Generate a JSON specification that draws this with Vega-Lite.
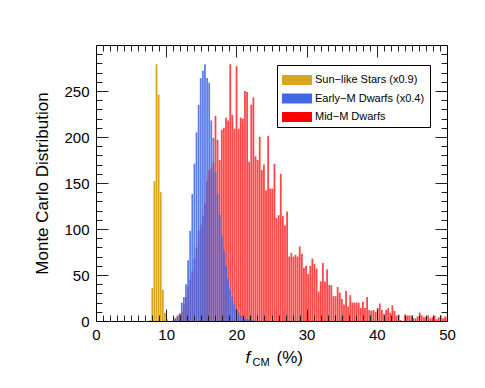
{
"$schema": "https://vega.github.io/schema/vega-lite/v6.json",
"width": 351, "height": 276,
"autosize": "none",
"padding": {"left": 96, "top": 45, "right": 38, "bottom": 67},
"background": "white",
"data": {"values": [
{"s":"M","a":10.8,"b":11.1,"n":1},{"s":"M","a":11.1,"b":11.4,"n":3},{"s":"M","a":11.4,"b":11.7,"n":6},{"s":"M","a":11.7,"b":12.0,"n":8},{"s":"M","a":12.0,"b":12.3,"n":10},{"s":"M","a":12.3,"b":12.6,"n":18},{"s":"M","a":12.6,"b":12.9,"n":26},{"s":"M","a":12.9,"b":13.2,"n":37},{"s":"M","a":13.2,"b":13.5,"n":45},{"s":"M","a":13.5,"b":13.8,"n":54},{"s":"M","a":13.8,"b":14.1,"n":68},{"s":"M","a":14.1,"b":14.4,"n":80},{"s":"M","a":14.4,"b":14.7,"n":98},{"s":"M","a":14.7,"b":15.0,"n":105},{"s":"M","a":15.0,"b":15.3,"n":114},{"s":"M","a":15.3,"b":15.6,"n":128},{"s":"M","a":15.6,"b":15.9,"n":152},{"s":"M","a":15.9,"b":16.2,"n":164},{"s":"M","a":16.2,"b":16.5,"n":166},{"s":"M","a":16.5,"b":16.8,"n":172},{"s":"M","a":16.8,"b":17.1,"n":223},{"s":"M","a":17.1,"b":17.4,"n":197},{"s":"M","a":17.4,"b":17.7,"n":175},{"s":"M","a":17.7,"b":18.0,"n":208},{"s":"M","a":18.0,"b":18.3,"n":210},{"s":"M","a":18.3,"b":18.6,"n":221},{"s":"M","a":18.6,"b":18.9,"n":218},{"s":"M","a":18.9,"b":19.2,"n":279},{"s":"M","a":19.2,"b":19.5,"n":224},{"s":"M","a":19.5,"b":19.8,"n":209},{"s":"M","a":19.8,"b":20.1,"n":277},{"s":"M","a":20.1,"b":20.4,"n":209},{"s":"M","a":20.4,"b":20.7,"n":221},{"s":"M","a":20.7,"b":21.0,"n":220},{"s":"M","a":21.0,"b":21.3,"n":250},{"s":"M","a":21.3,"b":21.6,"n":249},{"s":"M","a":21.6,"b":21.9,"n":173},{"s":"M","a":21.9,"b":22.2,"n":235},{"s":"M","a":22.2,"b":22.5,"n":243},{"s":"M","a":22.5,"b":22.8,"n":179},{"s":"M","a":22.8,"b":23.1,"n":175},{"s":"M","a":23.1,"b":23.4,"n":200},{"s":"M","a":23.4,"b":23.7,"n":164},{"s":"M","a":23.7,"b":24.0,"n":170},{"s":"M","a":24.0,"b":24.3,"n":142},{"s":"M","a":24.3,"b":24.6,"n":201},{"s":"M","a":24.6,"b":24.9,"n":144},{"s":"M","a":24.9,"b":25.2,"n":144},{"s":"M","a":25.2,"b":25.5,"n":171},{"s":"M","a":25.5,"b":25.8,"n":112},{"s":"M","a":25.8,"b":26.1,"n":115},{"s":"M","a":26.1,"b":26.4,"n":160},{"s":"M","a":26.4,"b":26.7,"n":114},{"s":"M","a":26.7,"b":27.0,"n":104},{"s":"M","a":27.0,"b":27.3,"n":119},{"s":"M","a":27.3,"b":27.6,"n":70},{"s":"M","a":27.6,"b":27.9,"n":74},{"s":"M","a":27.9,"b":28.2,"n":70},{"s":"M","a":28.2,"b":28.5,"n":72},{"s":"M","a":28.5,"b":28.8,"n":70},{"s":"M","a":28.8,"b":29.1,"n":81},{"s":"M","a":29.1,"b":29.4,"n":73},{"s":"M","a":29.4,"b":29.7,"n":58},{"s":"M","a":29.7,"b":30.0,"n":60},{"s":"M","a":30.0,"b":30.3,"n":51},{"s":"M","a":30.3,"b":30.6,"n":60},{"s":"M","a":30.6,"b":30.9,"n":68},{"s":"M","a":30.9,"b":31.2,"n":62},{"s":"M","a":31.2,"b":31.5,"n":57},{"s":"M","a":31.5,"b":31.8,"n":32},{"s":"M","a":31.8,"b":32.1,"n":43},{"s":"M","a":32.1,"b":32.4,"n":63},{"s":"M","a":32.4,"b":32.7,"n":43},{"s":"M","a":32.7,"b":33.0,"n":56},{"s":"M","a":33.0,"b":33.3,"n":39},{"s":"M","a":33.3,"b":33.6,"n":39},{"s":"M","a":33.6,"b":33.9,"n":27},{"s":"M","a":33.9,"b":34.2,"n":27},{"s":"M","a":34.2,"b":34.5,"n":37},{"s":"M","a":34.5,"b":34.8,"n":31},{"s":"M","a":34.8,"b":35.1,"n":24},{"s":"M","a":35.1,"b":35.4,"n":18},{"s":"M","a":35.4,"b":35.7,"n":33},{"s":"M","a":35.7,"b":36.0,"n":16},{"s":"M","a":36.0,"b":36.3,"n":28},{"s":"M","a":36.3,"b":36.6,"n":20},{"s":"M","a":36.6,"b":36.9,"n":20},{"s":"M","a":36.9,"b":37.2,"n":20},{"s":"M","a":37.2,"b":37.5,"n":20},{"s":"M","a":37.5,"b":37.8,"n":14},{"s":"M","a":37.8,"b":38.1,"n":21},{"s":"M","a":38.1,"b":38.4,"n":14},{"s":"M","a":38.4,"b":38.7,"n":26},{"s":"M","a":38.7,"b":39.0,"n":12},{"s":"M","a":39.0,"b":39.3,"n":11},{"s":"M","a":39.3,"b":39.6,"n":12},{"s":"M","a":39.6,"b":39.9,"n":10},{"s":"M","a":39.9,"b":40.2,"n":14},{"s":"M","a":40.2,"b":40.5,"n":19},{"s":"M","a":40.5,"b":40.8,"n":12},{"s":"M","a":40.8,"b":41.1,"n":8},{"s":"M","a":41.1,"b":41.4,"n":12},{"s":"M","a":41.4,"b":41.7,"n":14},{"s":"M","a":41.7,"b":42.0,"n":9},{"s":"M","a":42.0,"b":42.3,"n":17},{"s":"M","a":42.3,"b":42.6,"n":11},{"s":"M","a":42.6,"b":42.9,"n":6},{"s":"M","a":42.9,"b":43.2,"n":7},{"s":"M","a":43.2,"b":43.5,"n":1},{"s":"M","a":43.8,"b":44.1,"n":7},{"s":"M","a":44.1,"b":44.4,"n":6},{"s":"M","a":44.4,"b":44.7,"n":6},{"s":"M","a":44.7,"b":45.0,"n":6},{"s":"M","a":45.0,"b":45.3,"n":3},{"s":"M","a":45.3,"b":45.6,"n":3},{"s":"M","a":45.6,"b":45.9,"n":5},{"s":"M","a":45.9,"b":46.2,"n":9},{"s":"M","a":46.2,"b":46.5,"n":6},{"s":"M","a":46.5,"b":46.8,"n":4},{"s":"M","a":46.8,"b":47.1,"n":5},{"s":"M","a":47.1,"b":47.4,"n":6},{"s":"M","a":47.4,"b":47.7,"n":3},{"s":"M","a":47.7,"b":48.0,"n":4},{"s":"M","a":48.0,"b":48.3,"n":6},{"s":"M","a":48.3,"b":48.6,"n":2},{"s":"M","a":48.6,"b":48.9,"n":4},{"s":"M","a":48.9,"b":49.2,"n":6},{"s":"M","a":49.2,"b":49.5,"n":3},{"s":"M","a":49.5,"b":49.8,"n":5},{"s":"M","a":49.8,"b":50.0,"n":4},
{"s":"E","a":11.1,"b":11.4,"n":3},{"s":"E","a":11.4,"b":11.7,"n":5},{"s":"E","a":11.7,"b":12.0,"n":8},{"s":"E","a":12.0,"b":12.3,"n":20},{"s":"E","a":12.3,"b":12.6,"n":26},{"s":"E","a":12.6,"b":12.9,"n":40},{"s":"E","a":12.9,"b":13.2,"n":66},{"s":"E","a":13.2,"b":13.5,"n":98},{"s":"E","a":13.5,"b":13.8,"n":138},{"s":"E","a":13.8,"b":14.1,"n":171},{"s":"E","a":14.1,"b":14.4,"n":205},{"s":"E","a":14.4,"b":14.7,"n":235},{"s":"E","a":14.7,"b":15.0,"n":264},{"s":"E","a":15.0,"b":15.3,"n":272},{"s":"E","a":15.3,"b":15.6,"n":279},{"s":"E","a":15.6,"b":15.9,"n":264},{"s":"E","a":15.9,"b":16.2,"n":259},{"s":"E","a":16.2,"b":16.5,"n":218},{"s":"E","a":16.5,"b":16.8,"n":199},{"s":"E","a":16.8,"b":17.1,"n":162},{"s":"E","a":17.1,"b":17.4,"n":138},{"s":"E","a":17.4,"b":17.7,"n":115},{"s":"E","a":17.7,"b":18.0,"n":92},{"s":"E","a":18.0,"b":18.3,"n":76},{"s":"E","a":18.3,"b":18.6,"n":60},{"s":"E","a":18.6,"b":18.9,"n":46},{"s":"E","a":18.9,"b":19.2,"n":35},{"s":"E","a":19.2,"b":19.5,"n":26},{"s":"E","a":19.5,"b":19.8,"n":18},{"s":"E","a":19.8,"b":20.1,"n":13},{"s":"E","a":20.1,"b":20.4,"n":9},{"s":"E","a":20.4,"b":20.7,"n":6},{"s":"E","a":20.7,"b":21.0,"n":4},{"s":"E","a":21.0,"b":21.3,"n":3},{"s":"E","a":21.3,"b":21.6,"n":2},{"s":"E","a":21.6,"b":21.9,"n":2},{"s":"E","a":21.9,"b":22.2,"n":1},{"s":"E","a":22.2,"b":22.5,"n":1},
{"s":"S","a":7.5,"b":7.8,"n":1},{"s":"S","a":7.8,"b":8.1,"n":36},{"s":"S","a":8.1,"b":8.4,"n":152},{"s":"S","a":8.4,"b":8.7,"n":279},{"s":"S","a":8.7,"b":9.0,"n":246},{"s":"S","a":9.0,"b":9.3,"n":140},{"s":"S","a":9.3,"b":9.6,"n":34},{"s":"S","a":9.6,"b":9.9,"n":9},{"s":"S","a":9.9,"b":10.2,"n":2}
]},
"layer": [
{
"mark": {"type": "bar", "binSpacing": 0.3},
"encoding": {
"x": {"field": "a", "type": "quantitative", "bin": {"binned": true, "step": 0.3}, "scale": {"domain": [0, 50], "nice": false, "zero": false},
 "axis": {"orient": "bottom", "values": [0,10,20,30,40,50], "ticks": false, "domain": true, "domainColor": "black", "labelFontSize": 15, "labelPadding": 6, "labelFlush": false, "labelOverlap": false, "format": "d",
  "title": "f", "titleFontStyle": "italic", "titleFontSize": 17, "titleX": 149, "titleY": 41, "titleAlign": "left", "titleBaseline": "alphabetic", "titleAnchor": null}},
"x2": {"field": "b"},
"y": {"field": "n", "type": "quantitative", "stack": null, "scale": {"domain": [0, 300], "nice": false},
 "axis": {"orient": "left", "values": [0,50,100,150,200,250], "ticks": false, "domain": true, "domainColor": "black", "labelFontSize": 15, "labelPadding": 7, "labelFlush": false, "labelOverlap": false,
  "title": "Monte Carlo Distribution", "titleFontSize": 17, "titlePadding": 12}},
"color": {"field": "s", "type": "nominal", "scale": {"domain": ["S","E","M"], "range": ["#DAA520","#4169E1","#FF0000"]},
 "legend": {"orient": "none", "legendX": 181, "legendY": 20, "title": null, "strokeColor": "black", "fillColor": "white", "padding": 5, "labelFontSize": 11, "symbolType": "M-1,-0.5H2V0.5H-1Z", "symbolSize": 400, "symbolStrokeWidth": 0, "symbolOpacity": 1, "rowPadding": 3.5, "labelOffset": 13, "cornerRadius": 0,
  "labelExpr": "datum.value == 'S' ? 'Sun−like Stars (x0.9)' : datum.value == 'E' ? 'Early−M Dwarfs (x0.4)' : 'Mid−M Dwarfs'"}},
"fillOpacity": {"field": "s", "type": "nominal", "scale": {"domain": ["S","E","M"], "range": [1, 0.72, 0.85]}, "legend": null}
}
},
{
"mark": {"type": "point", "opacity": 0},
"encoding": {
"x": {"field": "a", "type": "quantitative", "scale": {"domain": [0, 50], "nice": false, "zero": false},
 "axis": {"orient": "bottom", "values": [10,20,30,40], "tickSize": -12, "labels": false, "domain": false, "zindex": 2,
  "title": "CM", "titleFontSize": 11, "titleX": 156, "titleY": 44, "titleAlign": "left", "titleBaseline": "alphabetic", "titleAnchor": null}},
"y": {"field": "n", "type": "quantitative", "scale": {"domain": [0, 300], "nice": false},
 "axis": {"orient": "left", "values": [50,100,150,200,250], "tickSize": -12, "labels": false, "domain": false, "title": null, "zindex": 2}}
}
},
{
"mark": {"type": "point", "opacity": 0},
"encoding": {
"x": {"field": "a", "type": "quantitative", "scale": {"domain": [0, 50], "nice": false, "zero": false},
 "axis": {"orient": "bottom", "values": [1,2,3,4,5,6,7,8,9,11,12,13,14,15,16,17,18,19,21,22,23,24,25,26,27,28,29,31,32,33,34,35,36,37,38,39,41,42,43,44,45,46,47,48,49], "tickSize": -6, "labels": false, "domain": false, "zindex": 2,
  "title": "(%)", "titleFontSize": 17, "titleX": 180, "titleY": 41, "titleAlign": "left", "titleBaseline": "alphabetic", "titleAnchor": null}},
"y": {"field": "n", "type": "quantitative", "scale": {"domain": [0, 300], "nice": false},
 "axis": {"orient": "left", "values": [10,20,30,40,60,70,80,90,110,120,130,140,160,170,180,190,210,220,230,240,260,270,280,290], "tickSize": -6, "labels": false, "domain": false, "title": null, "zindex": 2}}
}
},
{
"mark": {"type": "point", "opacity": 0},
"encoding": {
"x": {"field": "a", "type": "quantitative", "scale": {"domain": [0, 50], "nice": false, "zero": false},
 "axis": {"orient": "top", "values": [10,20,30,40], "tickSize": -12, "labels": false, "domain": true, "domainColor": "black", "title": null, "zindex": 2}},
"y": {"field": "n", "type": "quantitative", "scale": {"domain": [0, 300], "nice": false},
 "axis": {"orient": "right", "values": [50,100,150,200,250], "tickSize": -12, "labels": false, "domain": true, "domainColor": "black", "title": null, "zindex": 2}}
}
},
{
"mark": {"type": "point", "opacity": 0},
"encoding": {
"x": {"field": "a", "type": "quantitative", "scale": {"domain": [0, 50], "nice": false, "zero": false},
 "axis": {"orient": "top", "values": [1,2,3,4,5,6,7,8,9,11,12,13,14,15,16,17,18,19,21,22,23,24,25,26,27,28,29,31,32,33,34,35,36,37,38,39,41,42,43,44,45,46,47,48,49], "tickSize": -6, "labels": false, "domain": false, "title": null, "zindex": 2}},
"y": {"field": "n", "type": "quantitative", "scale": {"domain": [0, 300], "nice": false},
 "axis": {"orient": "right", "values": [10,20,30,40,60,70,80,90,110,120,130,140,160,170,180,190,210,220,230,240,260,270,280,290], "tickSize": -6, "labels": false, "domain": false, "title": null, "zindex": 2}}
}
}
],
"resolve": {"axis": {"x": "independent", "y": "independent"}},
"config": {
"font": "Liberation Sans",
"view": {"stroke": null},
"axis": {"grid": false, "labelColor": "black", "titleColor": "black", "tickColor": "#222222", "tickWidth": 1, "domainColor": "black", "domainWidth": 1, "titleFontWeight": "normal", "labelFont": "Liberation Sans", "titleFont": "Liberation Sans"},
"legend": {"labelFont": "Liberation Sans", "labelColor": "black"}
}
}
